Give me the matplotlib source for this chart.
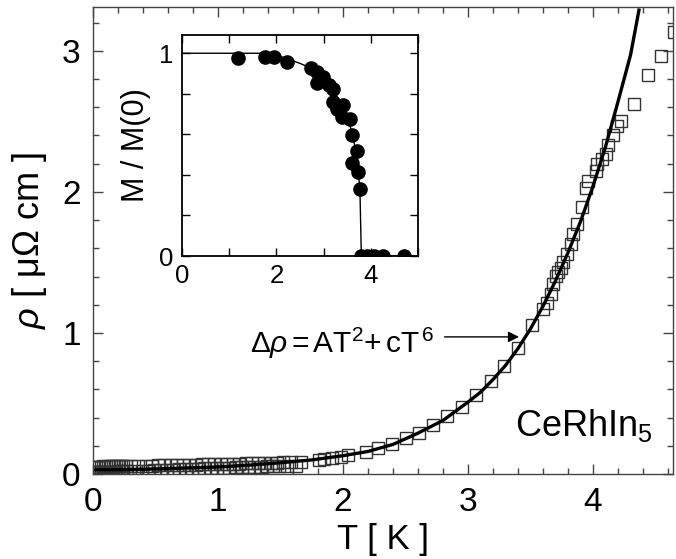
import matplotlib
matplotlib.use('Agg')
import matplotlib.pyplot as plt

plt.rcParams['font.family'] = ['Liberation Sans', 'DejaVu Sans']
plt.rcParams['mathtext.fontset'] = 'custom'
plt.rcParams['mathtext.rm'] = 'Liberation Sans'
plt.rcParams['mathtext.it'] = 'Liberation Sans:italic'

# resistivity data, two runs at low T (upper / lower rows)
T_a = [0.00, 0.02, 0.04, 0.06, 0.08, 0.10, 0.12, 0.14, 0.16, 0.18, 0.20, 0.22, 0.24,
       0.26, 0.30, 0.36, 0.42, 0.47, 0.52, 0.57, 0.62, 0.67, 0.72, 0.77, 0.82, 0.87,
       0.92, 0.97, 1.02, 1.07, 1.12, 1.17, 1.22, 1.27, 1.32, 1.37, 1.42, 1.47, 1.52,
       1.58, 1.66]
rho_a = [0.052, 0.053, 0.052, 0.053, 0.054, 0.053, 0.054, 0.055, 0.055, 0.055, 0.056,
         0.057, 0.056, 0.057, 0.058, 0.059, 0.060, 0.060, 0.061, 0.063, 0.063, 0.064,
         0.066, 0.066, 0.067, 0.068, 0.070, 0.070, 0.071, 0.072, 0.074, 0.074, 0.075,
         0.077, 0.077, 0.078, 0.079, 0.080, 0.082, 0.085, 0.087]

T_b = [0.00, 0.02, 0.04, 0.06, 0.08, 0.10, 0.12, 0.14, 0.16, 0.18, 0.20, 0.22, 0.24,
       0.27, 0.33, 0.39, 0.44, 0.49, 0.54, 0.59, 0.64, 0.69, 0.74, 0.79, 0.84, 0.89,
       0.94, 0.99, 1.04, 1.09, 1.14, 1.19, 1.24, 1.29, 1.34, 1.39, 1.44, 1.49, 1.55,
       1.62]
rho_b = [0.012, 0.013, 0.013, 0.014, 0.014, 0.015, 0.015, 0.016, 0.016, 0.017, 0.018,
         0.018, 0.019, 0.020, 0.022, 0.024, 0.025, 0.027, 0.029, 0.030, 0.032, 0.033,
         0.035, 0.037, 0.038, 0.040, 0.042, 0.043, 0.045, 0.046, 0.048, 0.049, 0.051,
         0.052, 0.053, 0.054, 0.055, 0.056, 0.057, 0.058]

T_hi = [1.81, 1.85, 1.91, 1.98, 2.04, 2.18, 2.28, 2.39, 2.50, 2.61, 2.72, 2.83, 2.95,
        3.06, 3.18, 3.29, 3.40, 3.51, 3.60, 3.63, 3.66, 3.68, 3.70, 3.72, 3.74, 3.76,
        3.79, 3.82, 3.84, 3.87, 3.91, 3.94, 3.96, 4.02, 4.03, 4.07, 4.10, 4.12, 4.16,
        4.19, 4.22, 4.33, 4.44, 4.54, 4.65]
rho_hi = [0.098, 0.104, 0.116, 0.123, 0.135, 0.158, 0.187, 0.210, 0.253, 0.289, 0.347,
          0.410, 0.478, 0.558, 0.660, 0.764, 0.893, 1.053, 1.170, 1.215, 1.274, 1.345,
          1.404, 1.430, 1.463, 1.500, 1.558, 1.629, 1.700, 1.770, 1.890, 2.030, 2.080,
          2.150, 2.200, 2.230, 2.270, 2.330, 2.400, 2.470, 2.500, 2.620, 2.830, 2.960,
          3.130]

# fit  d rho = A T^2 + c T^6
T_fit = [0.0, 0.25, 0.5, 0.75, 1.0, 1.25, 1.5, 1.75, 2.0, 2.2, 2.4, 2.6, 2.8, 3.0,
         3.1, 3.2, 3.3, 3.4, 3.5, 3.6, 3.7, 3.8, 3.9, 4.0, 4.1, 4.2, 4.3, 4.37]
rho_fit = [0.030, 0.031, 0.036, 0.043, 0.050, 0.063, 0.080, 0.100, 0.130, 0.160, 0.210,
           0.290, 0.380, 0.510, 0.580, 0.670, 0.770, 0.890, 1.030, 1.190, 1.370, 1.570,
           1.790, 2.040, 2.320, 2.640, 2.970, 3.300]

# inset: M / M(0)
T_m = [1.18, 1.75, 1.96, 2.23, 2.74, 2.87, 2.99, 2.87, 3.11, 3.21, 3.21, 3.41, 3.29,
       3.40, 3.55, 3.60, 3.70, 3.60, 3.72, 3.77, 3.80, 3.93, 4.07, 4.25, 4.71]
M_m = [0.979, 0.982, 0.982, 0.957, 0.925, 0.908, 0.883, 0.854, 0.842, 0.826, 0.760,
       0.744, 0.727, 0.686, 0.678, 0.596, 0.517, 0.457, 0.412, 0.330, 0.0, 0.0, 0.0,
       0.0, 0.0]
T_mline = [0.0, 1.9, 2.2, 2.5, 2.75, 2.9, 3.0, 3.1, 3.2, 3.3, 3.4, 3.5, 3.6, 3.7,
           3.77, 3.80, 5.0]
M_mline = [1.0, 1.0, 0.975, 0.95, 0.925, 0.90, 0.88, 0.85, 0.82, 0.78, 0.74, 0.69,
           0.61, 0.50, 0.33, 0.0, 0.0]

fig = plt.figure(figsize=(6.76, 5.59), dpi=100)
ax = fig.add_axes([0.1376, 0.152, 0.858, 0.8354])

sq = dict(marker='s', ms=8, mfc='none', mec='#333333', mew=1.0, ls='none')
ax.plot(T_a, rho_a, **sq)
ax.plot(T_b, rho_b, **sq)
ax.plot(T_hi, rho_hi, **sq)
ax.plot(T_fit, rho_fit, color='black', lw=2.4, solid_capstyle='butt')

ax.set_xlim(0, 4.64)
ax.set_ylim(0, 3.31)
ax.set_xticks([0, 1, 2, 3, 4])
ax.set_yticks([0, 1, 2, 3])
ax.set_xticks([i * 0.2 for i in range(24)], minor=True)
ax.set_yticks([i * 0.2 for i in range(17)], minor=True)
ax.tick_params(which='both', direction='in', top=True, right=True, labelsize=24,
               color='#444444', pad=9)
ax.tick_params(which='major', length=7, width=1)
ax.tick_params(which='minor', length=4.5, width=1)
for s in ax.spines.values():
    s.set_color('#444444')
    s.set_linewidth(1.0)
ax.set_xlabel('T [ K ]', fontsize=25, labelpad=4)
ax.set_ylabel(r'$\rho$ [ μΩ cm ]', fontsize=26, labelpad=9)

ax.text(1.256, 0.858, r'Δ$\rho\,$=$\,$AT$^2$+$\,$cT$^{\,6}$', fontsize=21.5,
        ha='left', va='baseline')
ax.annotate('', xy=(3.43, 0.972), xytext=(2.79, 0.972),
            arrowprops=dict(arrowstyle='-|>', color='black', lw=1.0, mutation_scale=16))
ax.text(3.376, 0.27, r'CeRhIn$_5$', fontsize=26, ha='left', va='baseline')

# inset
ins = fig.add_axes([0.2692, 0.542, 0.3491, 0.3954])
ins.plot(T_mline, M_mline, color='black', lw=1.0)
ins.plot(T_m, M_m, 'o', color='black', ms=9.5)
ins.set_xlim(0, 5)
ins.set_ylim(0, 1.09)
ins.set_xticks([0, 2, 4])
ins.set_xticks([1, 3, 5], minor=True)
ins.set_yticks([0, 1])
ins.set_yticks([0.2, 0.4, 0.6, 0.8], minor=True)
ins.tick_params(which='both', direction='in', top=True, right=True, labelsize=18.5,
                length=6, width=1, pad=6)
for s in ins.spines.values():
    s.set_linewidth(1.3)
ins.set_ylabel('M / M(0)', fontsize=22, labelpad=6)

fig.savefig('out.png', dpi=100)
